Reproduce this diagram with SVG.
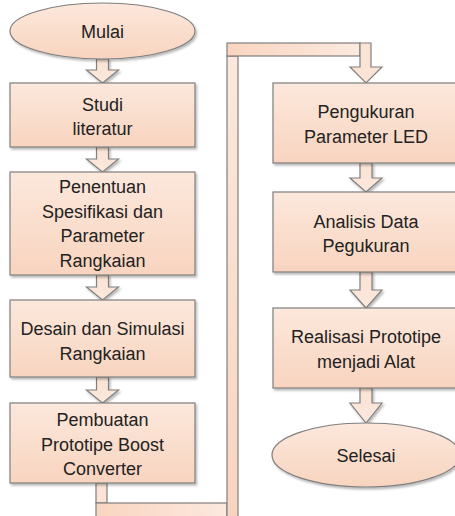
<svg xmlns="http://www.w3.org/2000/svg" width="455" height="516" viewBox="0 0 455 516">
<defs>
<linearGradient id="gv" x1="0" y1="0" x2="0" y2="1">
<stop offset="0" stop-color="#fce8dc"/>
<stop offset="1" stop-color="#f8d4bf"/>
</linearGradient>
<linearGradient id="gh" x1="0" y1="0" x2="1" y2="0">
<stop offset="0" stop-color="#f9d5c0"/>
<stop offset="1" stop-color="#fce9de"/>
</linearGradient>
<linearGradient id="ga" x1="0" y1="0" x2="0" y2="1">
<stop offset="0" stop-color="#fbe2d3"/>
<stop offset="1" stop-color="#fce8dd"/>
</linearGradient>
<filter id="sh" x="-10%" y="-10%" width="130%" height="140%">
<feDropShadow dx="1.5" dy="2" stdDeviation="1" flood-color="#000" flood-opacity="0.28"/>
</filter>
<style>
.n{fill:url(#gv);stroke:#7f7f7f;stroke-width:1.2;filter:url(#sh)}
.a{fill:url(#ga);stroke:#7f7f7f;stroke-width:1.2;filter:url(#sh)}
.c{stroke:#7f7f7f;stroke-width:1.2}
text{font-family:"Liberation Sans",Arial,sans-serif;font-size:18px;fill:#222222;text-anchor:middle}
</style>
</defs>
<rect width="455" height="516" fill="#ffffff"/>
<g id="connectors">
<polygon class="a" points="96.5,59 108.5,59 108.5,70 118.5,70 102.5,83 86.5,70 96.5,70"/>
<polygon class="a" points="96.5,147 108.5,147 108.5,159 118.5,159 102.5,172 86.5,159 96.5,159"/>
<polygon class="a" points="96.5,275 108.5,275 108.5,287 118.5,287 102.5,300 86.5,287 96.5,287"/>
<polygon class="a" points="96.5,377 108.5,377 108.5,390 118.5,390 102.5,403 86.5,390 96.5,390"/>
<polygon class="a" points="360,163 372,163 372,178 382,178 366,192 350,178 360,178"/>
<polygon class="a" points="360,272 372,272 372,290 382,290 366,308 350,290 360,290"/>
<polygon class="a" points="360,388 372,388 372,403 382,403 366,423 350,403 360,403"/>
<g id="loop">
<rect class="c" x="96" y="483" width="11" height="20" fill="#fbe4d7"/>
<rect class="c" x="96" y="503" width="131" height="20" fill="url(#gh)"/>
<rect class="c" x="227" y="56" width="11" height="467" fill="url(#gv)"/>
<rect class="c" x="227" y="43" width="133" height="13" fill="url(#gh)"/>
<polygon class="c" fill="#fbe3d5" points="360,43 371,43 371,67 382,67 366,83 350,67 360,67"/>
</g>
</g>
<g id="mulai">
<ellipse class="n" cx="102.5" cy="31" rx="92.5" ry="28"/>
<text x="102.5" y="38">Mulai</text>
</g>
<g id="studi">
<rect class="n" x="10" y="83" width="185" height="64"/>
<text x="102.5" y="111">Studi</text>
<text x="102.5" y="135">literatur</text>
</g>
<g id="penentuan">
<rect class="n" x="10" y="172" width="185" height="103"/>
<text x="102.5" y="193">Penentuan</text>
<text x="102.5" y="217.5">Spesifikasi dan</text>
<text x="102.5" y="242">Parameter</text>
<text x="102.5" y="266.5">Rangkaian</text>
</g>
<g id="desain">
<rect class="n" x="10" y="300" width="185" height="77"/>
<text x="102.5" y="335">Desain dan Simulasi</text>
<text x="102.5" y="359.5">Rangkaian</text>
</g>
<g id="pembuatan">
<rect class="n" x="10" y="403" width="185" height="80"/>
<text x="102.5" y="426">Pembuatan</text>
<text x="102.5" y="450.5">Prototipe Boost</text>
<text x="102.5" y="475">Converter</text>
</g>
<g id="pengukuran">
<rect class="n" x="273" y="83" width="186" height="80"/>
<text x="366" y="118">Pengukuran</text>
<text x="366" y="143">Parameter LED</text>
</g>
<g id="analisis">
<rect class="n" x="273" y="192" width="186" height="80"/>
<text x="366" y="228">Analisis Data</text>
<text x="366" y="252">Pegukuran</text>
</g>
<g id="realisasi">
<rect class="n" x="273" y="308" width="186" height="80"/>
<text x="366" y="343">Realisasi Prototipe</text>
<text x="366" y="368">menjadi Alat</text>
</g>
<g id="selesai">
<ellipse class="n" cx="366" cy="455" rx="94" ry="32"/>
<text x="366" y="462">Selesai</text>
</g>
</svg>
